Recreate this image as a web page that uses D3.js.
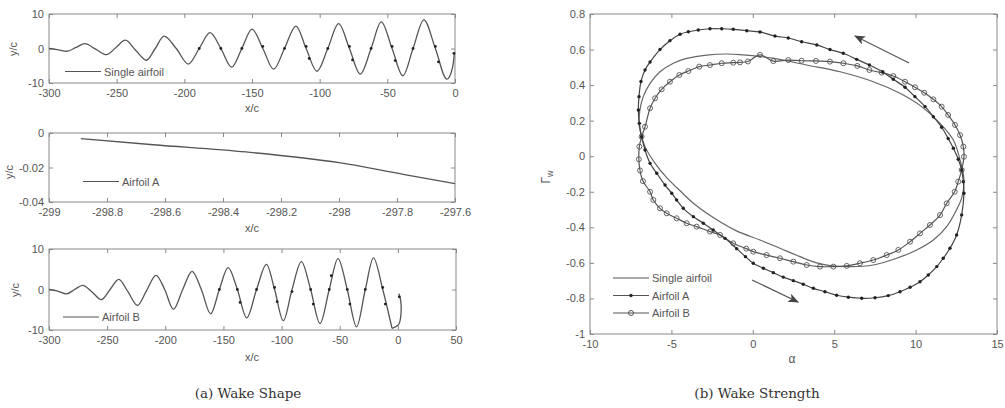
<!DOCTYPE html>
<html>
<head>
<meta charset="utf-8">
<script src="https://cdn.jsdelivr.net/npm/d3@7"></script>
<style>
  body { margin: 0; background: #fff; }
</style>
</head>
<body>
<svg id="fig" width="1005" height="408"></svg>
<script>
const FONT = "'Liberation Sans', Arial, sans-serif";
const SERIF = "'DejaVu Serif', 'Liberation Serif', serif";

// (a) wake shape, x/c vs y/c (extremes and zero crossings)
const wakeSingle = [
  [-300, 0], [-294, -0.3], [-287, -0.8], [-280, 0.3], [-273.5, 1.4], [-265.5, -0.2], [-257.5, -1.8],
  [-250.5, 0.3], [-243.5, 2.4], [-236, -0.5], [-228, -3.4], [-221.5, 0], [-215, 3.6],
  [-206, 0], [-197, -4.5], [-189, 0], [-181, 4.6], [-173, 0], [-165, -5.4],
  [-157.5, 0], [-150, 5.6], [-142, 0], [-134, -6.0], [-126, 0], [-117.5, 6.5],
  [-110, 0], [-102, -6.6], [-94, 0], [-86, 7.2], [-78, 0], [-70, -7.4],
  [-62, 0], [-54.5, 7.7], [-46.5, 0], [-38.5, -7.9], [-31, 0], [-23, 8.3],
  [-14.5, 0], [-6, -8.9], [-1.8, -5.5], [-0.4, -1.2]
];
const vortexSingle = [
  [-189, 0], [-173, 0], [-157.5, 0], [-142, 0.6], [-126, 0], [-110, 0.6], [-107.7, -2.9],
  [-94, 0], [-78, 0.6], [-75.7, -3.3], [-62, 0], [-46.5, 0.6], [-44.2, -3.5],
  [-31, 0], [-14.5, 0.6], [-12.2, -3.9], [-0.8, -1.4]
];

const wakeA = [
  [-298.89, -0.0033], [-298.64, -0.0068], [-298.32, -0.011],
  [-298.0, -0.0172], [-297.79, -0.0236], [-297.6, -0.0294]
];

const wakeB = [
  [-300, 0], [-292.5, -0.4], [-285, -1.1], [-278, 0], [-271, 1.0], [-263, -0.6], [-255, -2.5],
  [-247.5, 0], [-240, 2.5], [-232, -0.6], [-224, -3.9], [-216, -0.2], [-208, 3.5],
  [-200.5, 0], [-193, -4.9], [-185, 0], [-177, 4.5], [-169, 0], [-161, -6.0],
  [-153.5, 0], [-146, 5.4], [-138, 0], [-130, -7.0], [-121.5, 0], [-113, 6.2],
  [-106, 0], [-98.5, -7.7], [-91, 0], [-83, 6.9], [-75, 0], [-67, -8.4],
  [-59, 0], [-51.5, 7.6], [-43.5, 0], [-35.5, -9.2], [-28, 0], [-21, 7.8],
  [-13, 0], [-5, -9.6]
];
const wakeBTail = [[-5, -9.6], [0.6, -8.7], [2.8, -5.6], [2.4, -2.6], [0.8, -1.0]];
const vortexB = [
  [-153.5, 0], [-138, 0], [-135.7, -3.2], [-121.5, 0], [-106, 0.5], [-103.8, -3.0],
  [-91, -0.5], [-75, 0], [-72.8, -3.6], [-59, 0], [-57.3, 3.4], [-43.5, 0], [-41.3, -3.6],
  [-28, 0], [-13, 0.5], [-10.8, -3.6], [1.2, -1.8]
];

const wakeXTicks = [-300, -250, -200, -150, -100, -50, 0];
const wakeBXTicks = [-300, -250, -200, -150, -100, -50, 0, 50];
const wakeYTicks = [-10, 0, 10];
const zoomXTicks = [-299, -298.8, -298.6, -298.4, -298.2, -298, -297.8, -297.6];
const zoomYTicks = [-0.04, -0.02, 0];

// (b) wake strength, alpha vs Gamma_w
const gammaSingle = [
  [12.97, -0.134], [12.73, -0.021], [12.32, 0.091], [11.5, 0.185], [10.37, 0.279], [9.04, 0.354],
  [7.4, 0.419], [5.36, 0.475], [3.31, 0.513], [1.3, 0.55], [-0.8, 0.572], [-1.6, 0.575],
  [-2.83, 0.569], [-4.06, 0.55], [-4.88, 0.523], [-5.7, 0.475], [-6.31, 0.41], [-6.73, 0.335],
  [-6.95, 0.25], [-6.97, 0.166], [-6.62, 0.054], [-6.0, -0.04], [-5.29, -0.12], [-4.4, -0.2],
  [-3.65, -0.265], [-2.43, -0.345], [-1.0, -0.42], [0.44, -0.471], [1.67, -0.518], [2.9, -0.565],
  [3.93, -0.6], [4.74, -0.615], [5.97, -0.621], [7.4, -0.612], [8.84, -0.574], [10.07, -0.527],
  [11.09, -0.471], [11.91, -0.396], [12.52, -0.30], [12.83, -0.236]
];
const gammaA = [
  [12.97, -0.208], [12.93, -0.143], [12.83, -0.077], [12.62, -0.017], [12.32, 0.045], [12.0, 0.10],
  [11.6, 0.163], [11.09, 0.222], [10.58, 0.279], [9.96, 0.335], [9.35, 0.388], [8.63, 0.433],
  [7.98, 0.474], [7.16, 0.513], [6.38, 0.545], [5.56, 0.579], [4.74, 0.60], [3.93, 0.626],
  [3.0, 0.644], [2.18, 0.665], [1.36, 0.676], [0.44, 0.699], [-0.37, 0.706], [-1.2, 0.714],
  [-1.91, 0.717], [-2.63, 0.717], [-3.35, 0.71], [-3.96, 0.70], [-4.47, 0.686], [-5.09, 0.65],
  [-5.70, 0.60], [-6.31, 0.53], [-6.62, 0.485], [-6.87, 0.42], [-6.99, 0.335], [-7.03, 0.26],
  [-6.97, 0.185], [-6.83, 0.11], [-6.62, 0.035], [-6.31, -0.04], [-5.9, -0.096], [-5.39, -0.162],
  [-4.98, -0.208], [-4.68, -0.246], [-4.27, -0.293], [-3.65, -0.34], [-3.04, -0.377], [-2.43, -0.415],
  [-1.71, -0.462], [-0.99, -0.52], [-0.45, -0.565], [0.03, -0.602], [0.65, -0.63], [1.26, -0.655],
  [1.87, -0.68], [2.49, -0.70], [3.10, -0.72], [3.72, -0.743], [4.43, -0.762], [5.15, -0.782],
  [5.87, -0.793], [6.69, -0.799], [7.51, -0.796], [8.32, -0.784], [9.04, -0.762], [9.66, -0.737],
  [10.27, -0.706], [10.78, -0.668], [11.3, -0.621], [11.70, -0.574], [12.11, -0.518], [12.52, -0.443],
  [12.83, -0.33]
];
const gammaB = [
  [12.97, -0.003], [12.93, 0.054], [12.73, 0.119], [12.42, 0.176], [12.0, 0.232], [11.6, 0.279],
  [11.09, 0.32], [10.53, 0.357], [9.96, 0.388], [9.35, 0.419], [8.63, 0.451], [7.92, 0.47],
  [7.16, 0.485], [6.42, 0.508], [5.56, 0.523], [4.74, 0.532], [3.88, 0.536], [3.0, 0.537],
  [2.18, 0.541], [1.26, 0.535], [0.44, 0.57], [-0.3, 0.533], [-0.79, 0.528], [-1.2, 0.526],
  [-1.91, 0.523], [-2.63, 0.513], [-3.29, 0.504], [-3.96, 0.479], [-4.51, 0.457], [-5.09, 0.419],
  [-5.6, 0.376], [-6.0, 0.326], [-6.31, 0.27], [-6.62, 0.166], [-6.83, 0.11], [-6.97, 0.054],
  [-7.0, -0.017], [-6.93, -0.08], [-6.75, -0.14], [-6.31, -0.20], [-6.11, -0.246], [-5.70, -0.293],
  [-5.29, -0.321], [-4.68, -0.349], [-4.06, -0.377], [-3.45, -0.396], [-2.63, -0.424], [-2.01, -0.443],
  [-1.2, -0.49], [-0.4, -0.52], [0.03, -0.537], [0.85, -0.556], [1.67, -0.574], [2.49, -0.593],
  [3.31, -0.612], [4.13, -0.621], [4.95, -0.621], [5.77, -0.617], [6.58, -0.602], [7.40, -0.584],
  [8.22, -0.556], [8.94, -0.527], [9.66, -0.481], [10.27, -0.434], [10.88, -0.387], [11.5, -0.331],
  [11.91, -0.265], [12.4, -0.2], [12.62, -0.143], [12.83, -0.077]
];
const alphaTicks = [-10, -5, 0, 5, 10, 15];
const gammaTicks = [-1, -0.8, -0.6, -0.4, -0.2, 0, 0.2, 0.4, 0.6, 0.8];
const arrowTop = [[9.6, 0.524], [6.28, 0.676]];
const arrowBottom = [[-0.05, -0.696], [2.78, -0.82]];

const svg = d3.select("#fig");
const LINE = "#555";
const fmt = d => String(+d.toFixed(2));

svg.append("defs").append("marker")
  .attr("id", "head")
  .attr("viewBox", "0 -5 10 10")
  .attr("refX", 9).attr("refY", 0)
  .attr("markerUnits", "userSpaceOnUse")
  .attr("markerWidth", 11).attr("markerHeight", 11)
  .attr("orient", "auto")
  .append("path").attr("d", "M0,-4L10,0L0,4L2.5,0Z").attr("fill", "#444");

function panel(box, xDomain, yDomain, xTicks, yTicks) {
  const x = d3.scaleLinear().domain(xDomain).range([box.l, box.r]);
  const y = d3.scaleLinear().domain(yDomain).range([box.b, box.t]);
  const g = svg.append("g");

  const axes = [
    [d3.axisBottom(x).tickValues(xTicks).tickFormat(fmt).tickPadding(6), `translate(0,${box.b})`],
    [d3.axisTop(x).tickValues(xTicks).tickFormat(""), `translate(0,${box.t})`],
    [d3.axisLeft(y).tickValues(yTicks).tickFormat(fmt).tickPadding(5), `translate(${box.l},0)`],
    [d3.axisRight(y).tickValues(yTicks).tickFormat(""), `translate(${box.r},0)`]
  ];
  axes.forEach(([axis, t]) => {
    g.append("g").attr("transform", t)
      .call(axis.tickSize(-4))
      .attr("font-size", 11)
      .attr("font-family", FONT);
  });
  g.selectAll(".domain").remove();
  g.selectAll(".tick line").attr("stroke", "#888");
  g.selectAll(".tick text").attr("fill", "#555");

  g.append("rect")
    .attr("x", box.l).attr("y", box.t)
    .attr("width", box.r - box.l).attr("height", box.b - box.t)
    .attr("fill", "none").attr("stroke", "#888");
  return { g, x, y };
}

function label(x, y, text, rotate, size) {
  const t = svg.append("text")
    .attr("x", x).attr("y", y)
    .attr("text-anchor", "middle")
    .attr("dominant-baseline", "central")
    .attr("font-family", FONT)
    .attr("font-size", size || 11)
    .attr("fill", "#555")
    .text(text);
  if (rotate) t.attr("transform", `rotate(-90,${x},${y})`);
  return t;
}

function legendRow(g, x0, y0, text, mark) {
  g.append("line")
    .attr("x1", x0).attr("x2", x0 + 36).attr("y1", y0).attr("y2", y0)
    .attr("stroke", LINE).attr("stroke-width", 1.2);
  if (mark === "dot") {
    g.append("circle").attr("cx", x0 + 18).attr("cy", y0).attr("r", 1.7).attr("fill", "#222");
  } else if (mark === "ring") {
    g.append("circle").attr("cx", x0 + 18).attr("cy", y0).attr("r", 2.5)
      .attr("fill", "none").attr("stroke", LINE);
  }
  g.append("text")
    .attr("x", x0 + 39).attr("y", y0)
    .attr("dominant-baseline", "central")
    .attr("font-family", FONT).attr("font-size", 11).attr("fill", "#555")
    .text(text);
}

function wakePath(g, x, y, data, curve) {
  const line = d3.line().x(d => x(d[0])).y(d => y(d[1])).curve(curve);
  g.append("path").datum(data).attr("d", line)
    .attr("fill", "none").attr("stroke", LINE).attr("stroke-width", 1.3);
}

function vortices(g, x, y, data) {
  g.selectAll(null).data(data).enter().append("circle")
    .attr("cx", d => x(d[0])).attr("cy", d => y(d[1])).attr("r", 1.4).attr("fill", "#222");
}

// ---- (a) top: single airfoil
{
  const { g, x, y } = panel({ l: 49, r: 455, t: 14, b: 83 }, [-300, 0], [-10, 10], wakeXTicks, wakeYTicks);
  wakePath(g, x, y, wakeSingle, d3.curveMonotoneX);
  vortices(g, x, y, vortexSingle);
  legendRow(g, 65, 71.5, "Single airfoil");
  label(252, 108, "x/c");
  label(13, 49, "y/c", true);
}

// ---- (a) middle: airfoil A, zoomed
{
  const { g, x, y } = panel({ l: 49, r: 455, t: 133, b: 202 }, [-299, -297.6], [-0.04, 0], zoomXTicks, zoomYTicks);
  wakePath(g, x, y, wakeA, d3.curveMonotoneX);
  legendRow(g, 83, 181.5, "Airfoil A");
  label(252, 228, "x/c");
  label(9, 172, "y/c", true);
}

// ---- (a) bottom: airfoil B
{
  const { g, x, y } = panel({ l: 49, r: 456, t: 249, b: 330 }, [-300, 50], [-10, 10], wakeBXTicks, wakeYTicks);
  wakePath(g, x, y, wakeB, d3.curveMonotoneX);
  wakePath(g, x, y, wakeBTail, d3.curveCatmullRom.alpha(0.5));
  vortices(g, x, y, vortexB);
  legendRow(g, 63, 317, "Airfoil B");
  label(252, 357, "x/c");
  label(15, 290, "y/c", true);
}

// ---- (b) wake strength loop
{
  const { g, x, y } = panel({ l: 590, r: 997, t: 14, b: 334 }, [-10, 15], [-1, 0.8], alphaTicks, gammaTicks);
  const loop = d3.line().x(d => x(d[0])).y(d => y(d[1])).curve(d3.curveCatmullRomClosed.alpha(0.5));

  g.append("path").datum(gammaSingle).attr("d", loop)
    .attr("fill", "none").attr("stroke", "#666").attr("stroke-width", 1.2);

  g.append("path").datum(gammaB).attr("d", loop)
    .attr("fill", "none").attr("stroke", LINE).attr("stroke-width", 1.2);
  g.selectAll(".ring").data(gammaB).enter().append("circle")
    .attr("cx", d => x(d[0])).attr("cy", d => y(d[1])).attr("r", 2.5)
    .attr("fill", "none").attr("stroke", LINE).attr("stroke-width", 0.9);

  g.append("path").datum(gammaA).attr("d", loop)
    .attr("fill", "none").attr("stroke", "#444").attr("stroke-width", 1.2);
  g.selectAll(".dot").data(gammaA).enter().append("circle")
    .attr("cx", d => x(d[0])).attr("cy", d => y(d[1])).attr("r", 1.7).attr("fill", "#222");

  [arrowTop, arrowBottom].forEach(a => {
    g.append("line")
      .attr("x1", x(a[0][0])).attr("y1", y(a[0][1]))
      .attr("x2", x(a[1][0])).attr("y2", y(a[1][1]))
      .attr("stroke", "#555").attr("stroke-width", 1.2)
      .attr("marker-end", "url(#head)");
  });

  legendRow(g, 613, 278, "Single airfoil");
  legendRow(g, 613, 295.5, "Airfoil A", "dot");
  legendRow(g, 613, 313, "Airfoil B", "ring");

  label(792, 359, "\u03b1", false, 12);
  const gl = label(546, 177, "\u0393", true, 12);
  gl.append("tspan").attr("font-size", 9).attr("dy", 4).text("w");
}

// captions
[["(a) Wake Shape", 248], ["(b) Wake Strength", 757]].forEach(([text, cx]) => {
  svg.append("text").attr("x", cx).attr("y", 393)
    .attr("text-anchor", "middle").attr("dominant-baseline", "central")
    .attr("font-family", SERIF).attr("font-size", 13.5).attr("fill", "#333")
    .text(text);
});
</script>
</body>
</html>
